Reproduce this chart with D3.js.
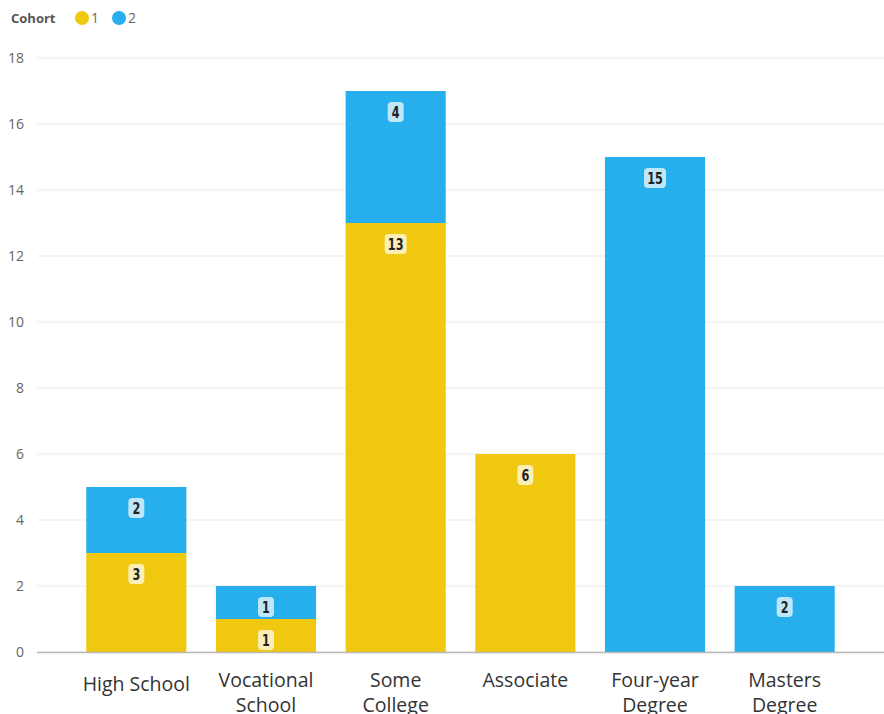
<!DOCTYPE html>
<html>
<head>
<meta charset="utf-8">
<script src="https://cdn.jsdelivr.net/npm/d3@7"></script>
<style>
  body { margin: 0; background: #fff; }
  svg { display: block; font-family: "Open Sans", "Noto Sans", sans-serif; }
</style>
</head>
<body>
<script>
// education level by cohort, stacked
var categories = ['High School', 'Vocational School', 'Some College', 'Associate', 'Four-year Degree', 'Masters Degree'];
var cohort1 = [3, 1, 13, 6, 0, 0];
var cohort2 = [2, 1, 4, 0, 15, 2];
var seriesNames = ['1', '2'];
var yTicks = [0, 2, 4, 6, 8, 10, 12, 14, 16, 18];

var width = 884;
var height = 714;
var colors = ['#F0C80F', '#27AEEC'];

var svg = d3.select('body').append('svg')
    .attr('width', width)
    .attr('height', height);

var x = d3.scaleBand()
    .domain(categories)
    .range([37, 884])
    .paddingInner(0.228)
    .paddingOuter(0.38);

var y = d3.scaleLinear()
    .domain([0, 18])
    .range([652, 58]);

// gridlines
svg.append('g')
    .selectAll('line')
    .data(yTicks)
    .enter().append('line')
    .attr('x1', 37)
    .attr('x2', 884)
    .attr('y1', function(d) { return y(d); })
    .attr('y2', function(d) { return y(d); })
    .attr('stroke', '#e9e9e9')
    .attr('stroke-width', 1);

// y tick labels
svg.append('g')
    .selectAll('text')
    .data(yTicks)
    .enter().append('text')
    .attr('x', 24)
    .attr('y', function(d) { return y(d); })
    .attr('dy', '0.35em')
    .attr('text-anchor', 'end')
    .attr('fill', '#666')
    .style('font-size', '14px')
    .text(function(d) { return d; });

// stacking
var rows = categories.map(function(c, i) {
    return { cat: c, '1': cohort1[i], '2': cohort2[i] };
});
var stack = d3.stack().keys(seriesNames)(rows);

var layers = svg.append('g')
    .selectAll('g')
    .data(stack)
    .enter().append('g')
    .attr('fill', function(d, i) { return colors[i]; });

layers.selectAll('rect')
    .data(function(d) { return d; })
    .enter().append('rect')
    .attr('x', function(d) { return x(d.data.cat); })
    .attr('width', x.bandwidth())
    .attr('y', function(d) { return y(d[1]); })
    .attr('height', function(d) { return y(d[0]) - y(d[1]); });

// data labels
var labels = layers.selectAll('g.lbl')
    .data(function(d) { return d.filter(function(p) { return p[1] - p[0] > 0; }); })
    .enter().append('g')
    .attr('class', 'lbl')
    .attr('transform', function(d) {
        return 'translate(' + (x(d.data.cat) + x.bandwidth() / 2) + ',' + (y(d[1]) + 21) + ')';
    });

labels.append('rect')
    .attr('x', function(d) { return (d[1] - d[0]) >= 10 ? -11 : -8; })
    .attr('y', -10)
    .attr('width', function(d) { return (d[1] - d[0]) >= 10 ? 22 : 16; })
    .attr('height', 20)
    .attr('rx', 4)
    .attr('fill', '#fff')
    .attr('fill-opacity', 0.7);

labels.append('text')
    .attr('text-anchor', 'middle')
    .attr('dy', '0.36em')
    .attr('transform', 'scale(0.78,1)')
    .attr('fill', '#222')
    .style('font-size', '16px')
    .style('font-weight', 'bold')
    .style('font-family', '"DejaVu Sans Condensed", "Liberation Sans Narrow", sans-serif')
    .text(function(d) { return d[1] - d[0]; });

// x axis line
svg.append('line')
    .attr('x1', 37)
    .attr('x2', 884)
    .attr('y1', y(0) + 0.5)
    .attr('y2', y(0) + 0.5)
    .attr('stroke', '#b8b8b8')
    .attr('stroke-width', 1.5);

// x labels (wrapped)
var xl = svg.append('g')
    .selectAll('text')
    .data(categories)
    .enter().append('text')
    .attr('text-anchor', 'middle')
    .attr('fill', '#333')
    .style('font-size', '19.5px');

xl.each(function(d) {
    var t = d3.select(this);
    var words = d === 'High School' ? [d] : d.split(' ');
    var firstY = d === 'High School' ? 691 : 687;
    words.forEach(function(w, i) {
        t.append('tspan')
            .attr('x', x(d) + x.bandwidth() / 2)
            .attr('y', firstY + i * 25)
            .text(w);
    });
});

// legend
var legend = svg.append('g');
legend.append('text')
    .attr('x', 11)
    .attr('y', 23)
    .attr('fill', '#555')
    .style('font-size', '13px')
    .style('font-weight', 'bold')
    .text('Cohort');

var items = legend.selectAll('g.item')
    .data(seriesNames)
    .enter().append('g')
    .attr('class', 'item')
    .attr('transform', function(d, i) { return 'translate(' + (82 + i * 37) + ',18)'; });

items.append('circle')
    .attr('r', 7)
    .attr('fill', function(d, i) { return colors[i]; });

items.append('text')
    .attr('x', 9)
    .attr('y', 5)
    .attr('fill', '#666')
    .style('font-size', '14px')
    .text(function(d) { return d; });
</script>
</body>
</html>
